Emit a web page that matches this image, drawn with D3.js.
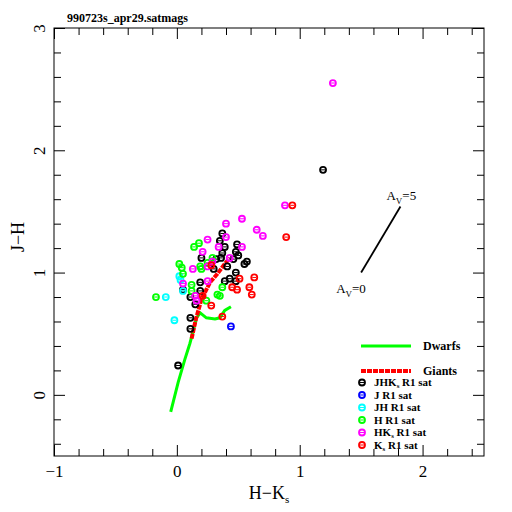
<!DOCTYPE html>
<html>
<head>
<meta charset="utf-8">
<script src="https://cdn.jsdelivr.net/npm/d3@7"></script>
<style>
  body { margin: 0; background: #fff; }
  text { font-family: "Liberation Serif", "DejaVu Serif", serif; fill: #000; }
</style>
</head>
<body>
<div id="chart"></div>
<script>
// data: [H-Ks, J-H] pairs per saturation flag
var jhksSat = [[1.19, 1.84], [0.37, 1.32], [0.35, 1.26], [0.49, 1.23], [0.48, 1.17], [0.50, 1.14],
  [0.39, 1.21], [0.37, 1.16], [0.36, 1.12], [0.32, 1.11], [0.46, 1.11], [0.55, 1.07], [0.57, 1.09],
  [0.41, 1.05], [0.48, 1.00], [0.39, 0.93], [0.43, 0.95], [0.48, 0.93], [0.20, 1.12], [0.19, 0.92],
  [0.19, 0.85], [0.05, 0.86], [0.11, 0.80], [0.11, 0.63], [0.11, 0.54], [0.01, 0.24], [0.15, 0.74],
  [0.30, 1.03]];
var jSat = [[0.44, 0.56]];
var jhSat = [[-0.09, 0.80], [-0.02, 0.61], [0.02, 0.97], [0.03, 0.94], [0.05, 0.85]];
var hSat = [[-0.17, 0.80], [0.14, 1.21], [0.18, 1.24], [0.02, 1.07], [0.04, 1.04], [0.19, 1.05],
  [0.25, 1.08], [0.29, 1.12], [0.05, 0.99], [0.12, 0.90], [0.12, 0.85], [0.20, 1.03], [0.37, 0.88],
  [0.33, 0.82], [0.35, 0.81], [0.24, 0.77]];
var hksSat = [[1.27, 2.55], [0.88, 1.55], [0.40, 1.40], [0.53, 1.44], [0.65, 1.35], [0.70, 1.30],
  [0.25, 1.27], [0.40, 1.29], [0.34, 1.21], [0.53, 1.21], [0.21, 1.17], [0.43, 1.12], [0.29, 1.09],
  [0.25, 1.05], [0.13, 1.03], [0.25, 0.93], [0.05, 0.91], [0.15, 0.81], [0.16, 0.77]];
var ksSat = [[0.94, 1.55], [0.89, 1.29], [0.63, 0.96], [0.51, 0.95], [0.45, 0.88], [0.49, 0.86],
  [0.59, 0.88], [0.61, 0.82], [0.28, 0.73], [0.37, 0.64], [0.28, 1.06], [0.21, 0.81]];

// intrinsic colour loci
var dwarfsHK = [-0.05, -0.03, 0.01, 0.065, 0.106, 0.13, 0.16, 0.19, 0.24, 0.31, 0.35, 0.39, 0.44];
var dwarfsJH = [-0.14, -0.06, 0.10, 0.29, 0.42, 0.51, 0.63, 0.67, 0.63, 0.62, 0.63, 0.69, 0.72];
var giantsHK = [0.12, 0.155, 0.20, 0.27, 0.33, 0.39, 0.43];
var giantsJH = [0.46, 0.62, 0.78, 0.92, 0.99, 1.07, 1.12];

// reddening vector A_V = 0 -> 5
var reddenHK = [1.50, 1.82];
var reddenJH = [1.00, 1.54];

var xTicks = [-1, 0, 1, 2];
var yTicks = [0, 1, 2, 3];

var series = [
  { label: "JHK", sub: "s", rest: " R1 sat", color: "#000000", pts: jhksSat },
  { label: "J R1 sat", color: "#0000ff", pts: jSat },
  { label: "JH R1 sat", color: "#00ffff", pts: jhSat },
  { label: "H R1 sat", color: "#00ff00", pts: hSat },
  { label: "HK", sub: "s", rest: " R1 sat", color: "#ff00ff", pts: hksSat },
  { label: "K", sub: "s", rest: " R1 sat", color: "#ff0000", pts: ksSat }
];

// define svg area
var svgWidth = 512;
var svgHeight = 512;
var margin = { top: 28, right: 28, bottom: 56, left: 54 };
var chartWidth = svgWidth - margin.left - margin.right;
var chartHeight = svgHeight - margin.top - margin.bottom;

var svg = d3.select("#chart")
  .append("svg")
  .attr("width", svgWidth)
  .attr("height", svgHeight);

var chartGroup = svg.append("g")
  .attr("transform", `translate(${margin.left}, ${margin.top})`);

var xScale = d3.scaleLinear().domain([-1, 2.5]).range([0, chartWidth]);
var yScale = d3.scaleLinear().domain([-0.5, 3]).range([chartHeight, 0]);

var xMinor = d3.range(-1, 2.5001, 0.2).map(d => +d.toFixed(2)).filter(d => xTicks.indexOf(d) < 0 && d < 2.5);
var yMinor = d3.range(-0.4, 3.0001, 0.2).map(d => +d.toFixed(2)).filter(d => yTicks.indexOf(d) < 0);

// axes, ticks pointing inward on all four sides
function addAxis(axis, transform, labels) {
  var g = chartGroup.append("g").attr("transform", transform).call(axis);
  g.select(".domain").remove();
  g.selectAll("line").attr("stroke", "#000").attr("stroke-width", 1);
  if (!labels) g.selectAll("text").remove();
  return g;
}

var xAxis = addAxis(d3.axisBottom(xScale).tickValues(xTicks).tickSize(-11).tickPadding(9)
  .tickFormat(d => d < 0 ? "\u2212" + Math.abs(d) : d), `translate(0, ${chartHeight})`, true);
xAxis.selectAll("text").attr("font-size", 17).attr("font-family", "Liberation Serif");
addAxis(d3.axisBottom(xScale).tickValues(xMinor).tickSize(-7), `translate(0, ${chartHeight})`, false);
addAxis(d3.axisTop(xScale).tickValues(xTicks).tickSize(-11), "translate(0, 0)", false);
addAxis(d3.axisTop(xScale).tickValues(xMinor).tickSize(-7), "translate(0, 0)", false);

// y tick labels are written vertically
var yAxis = addAxis(d3.axisLeft(yScale).tickValues(yTicks).tickSize(-11).tickFormat(d3.format("d")), "translate(0, 0)", true);
yAxis.selectAll("text")
  .attr("font-size", 17)
  .attr("font-family", "Liberation Serif")
  .attr("x", 0)
  .attr("dy", 0)
  .attr("text-anchor", "middle")
  .attr("transform", "translate(-9, 0) rotate(-90)");
addAxis(d3.axisLeft(yScale).tickValues(yMinor).tickSize(-7), "translate(0, 0)", false);
addAxis(d3.axisRight(yScale).tickValues(yTicks).tickSize(-11), `translate(${chartWidth}, 0)`, false);
addAxis(d3.axisRight(yScale).tickValues(yMinor).tickSize(-7), `translate(${chartWidth}, 0)`, false);

// frame
chartGroup.append("rect")
  .attr("width", chartWidth)
  .attr("height", chartHeight)
  .attr("fill", "none")
  .attr("stroke", "#000")
  .attr("stroke-width", 1);

// loci
var line = d3.line().x(d => xScale(d[0])).y(d => yScale(d[1]));

chartGroup.append("path")
  .datum(dwarfsHK.map((d, i) => [d, dwarfsJH[i]]))
  .attr("d", line)
  .attr("fill", "none")
  .attr("stroke", "#00ff00")
  .attr("stroke-width", 3);

chartGroup.append("path")
  .datum(giantsHK.map((d, i) => [d, giantsJH[i]]))
  .attr("d", line)
  .attr("fill", "none")
  .attr("stroke", "#ff0000")
  .attr("stroke-width", 4)
  .attr("stroke-dasharray", "5,1");

// reddening vector
chartGroup.append("path")
  .datum(reddenHK.map((d, i) => [d, reddenJH[i]]))
  .attr("d", line)
  .attr("stroke", "#000")
  .attr("stroke-width", 1.8);

function avLabel(x, y, val) {
  var t = chartGroup.append("text")
    .attr("x", x)
    .attr("y", y)
    .attr("font-size", 13);
  t.append("tspan").text("A");
  t.append("tspan").attr("dy", 4).attr("font-size", 9).text("V");
  t.append("tspan").attr("dy", -4).text("=" + val);
}
avLabel(xScale(reddenHK[1]) - 14, yScale(reddenJH[1]) - 7, 5);
avLabel(xScale(reddenHK[0]) - 25, yScale(reddenJH[0]) + 20, 0);

// markers
function drawMarkers(pts, color) {
  var g = chartGroup.append("g");
  g.selectAll("circle")
    .data(pts)
    .enter()
    .append("circle")
    .attr("cx", d => xScale(d[0]))
    .attr("cy", d => yScale(d[1]))
    .attr("r", 3)
    .attr("fill", "none")
    .attr("stroke", color)
    .attr("stroke-width", 1.8);
  g.selectAll("line")
    .data(pts)
    .enter()
    .append("line")
    .attr("x1", d => xScale(d[0]) - 2)
    .attr("x2", d => xScale(d[0]) + 2)
    .attr("y1", d => yScale(d[1]))
    .attr("y2", d => yScale(d[1]))
    .attr("stroke", color)
    .attr("stroke-width", 1);
}
series.forEach(s => drawMarkers(s.pts, s.color));

// legend
var lx0 = 307, lx1 = 357, ltx = 369;
chartGroup.append("line")
  .attr("x1", lx0).attr("x2", lx1).attr("y1", 318).attr("y2", 318)
  .attr("stroke", "#00ff00").attr("stroke-width", 3);
chartGroup.append("text").attr("x", ltx).attr("y", 322).attr("font-size", 12).attr("font-weight", "bold").text("Dwarfs");
chartGroup.append("line")
  .attr("x1", lx0).attr("x2", lx1).attr("y1", 343).attr("y2", 343)
  .attr("stroke", "#ff0000").attr("stroke-width", 4).attr("stroke-dasharray", "5,1");
chartGroup.append("text").attr("x", ltx).attr("y", 347).attr("font-size", 12).attr("font-weight", "bold").text("Giants");

series.forEach(function(s, i) {
  var yy = 354.5 + i * 12.5;
  drawMarkers([[xScale.invert(lx0 + 1), yScale.invert(yy)]], s.color);
  var t = chartGroup.append("text")
    .attr("x", 320)
    .attr("y", yy + 3.5)
    .attr("font-size", 11)
    .attr("font-weight", "bold");
  t.append("tspan").text(s.label);
  if (s.sub) {
    t.append("tspan").attr("dy", 2).attr("font-size", 7).text(s.sub);
    t.append("tspan").attr("dy", -2).text(s.rest);
  }
});

// title
svg.append("text")
  .attr("x", 67)
  .attr("y", 22)
  .attr("font-size", 12)
  .attr("font-weight", "bold")
  .text("990723s_apr29.satmags");

// axis titles
var xt = svg.append("text")
  .attr("x", 269)
  .attr("y", 499)
  .attr("text-anchor", "middle")
  .attr("font-size", 18);
xt.append("tspan").text("H\u2212K");
xt.append("tspan").attr("dy", 4).attr("font-size", 11).text("s");

svg.append("text")
  .attr("transform", "translate(24, 237) rotate(-90)")
  .attr("text-anchor", "middle")
  .attr("font-size", 18)
  .text("J\u2212H");
</script>
</body>
</html>
